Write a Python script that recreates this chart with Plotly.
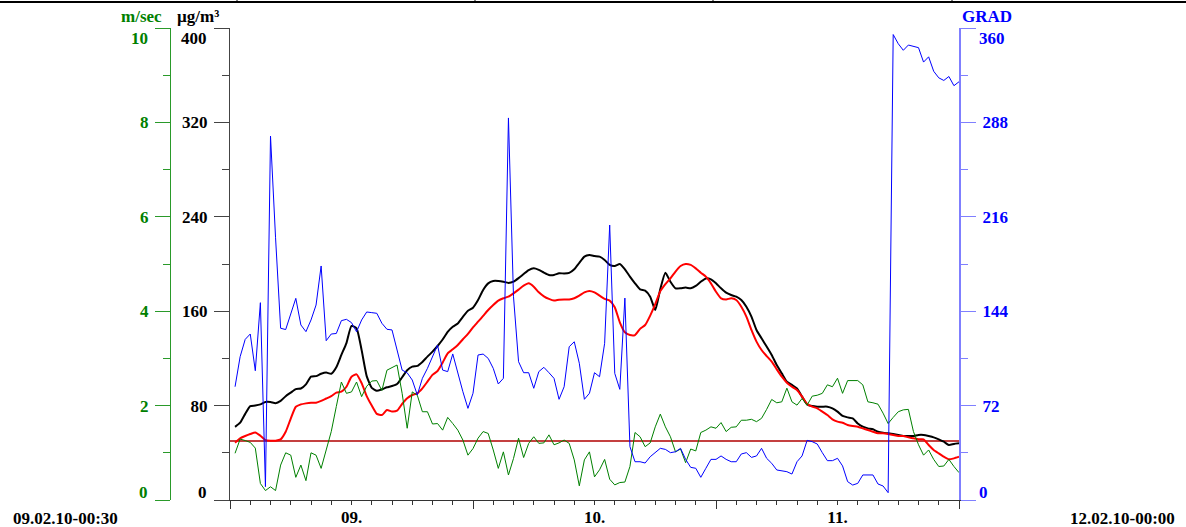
import pandas as pd
import plotly.graph_objects as go

W, H = 1186, 527

# ---- data (half-hourly, 09.02.10 00:30 .. 12.02.10 00:00) ----
start_time = "2010-02-09 00:30"
n_points = 144
times = pd.date_range(start_time, periods=n_points, freq="30min")

pm_black = [62, 65.5, 73, 79.5, 80, 81, 83, 83, 82, 84, 88, 91, 94, 94.5, 98, 104.5, 105, 107, 108, 107,
            112.5, 123, 133, 147.5, 145.5, 127, 105, 95, 92.6, 93.8, 95.5, 96.6, 98.3, 104, 110, 113, 113.6, 117, 121.5, 125.7,
            130.5, 136, 142.5, 146.8, 149.6, 155.2, 160.3, 163, 169.5, 178, 183.6, 185.6, 185.6, 185, 184, 185, 188, 191.5, 194.9, 196.3,
            195, 192.7, 190.7, 190.7, 192.1, 192, 192.5, 195.5, 201, 206.2, 207.6, 206.8, 206.2, 203.4, 199.2, 198.3, 200, 195.5, 189.3, 183.6,
            178.5, 177.4, 172.3, 161, 178.8, 192.6, 185, 179.4, 179.4, 180, 179.4, 181.4, 185, 187.8, 187, 183.6, 179.4, 175.7, 173.7, 172.3,
            169.5, 163.8, 155.4, 144.1, 137, 130, 122.9, 114.4, 107.3, 100.3, 97.5, 94.6, 87.6, 81, 79.6, 79.1, 79.1, 79.1, 77.7, 74.9,
            71.2, 70, 69.2, 64.9, 62.1, 60.7, 59.9, 57.9, 57, 56.5, 55.9, 55.1, 54.2, 54.2, 54.2, 55.1, 55.1, 54.2, 53.1, 51.4,
            49.4, 46.6, 47.5, 48]

pm_red = [48.6, 52.3, 54.2, 55.9, 57.3, 54.5, 50.8, 50.3, 50.3, 51.4, 57.8, 69, 79, 81, 81.9, 82.5, 82.5, 84, 86, 88,
          91, 91.8, 96, 104.5, 106.5, 99, 88, 80, 73, 72, 76.3, 75, 75.7, 81.4, 86.2, 89, 90.4, 94.6, 100.3, 106,
          109.3, 116.4, 124.3, 127.7, 131.4, 136.2, 140.7, 146.3, 151.1, 156, 161, 165.3, 169, 171, 172.3, 175.1, 178.3, 181.6, 183.6, 180.8,
          176, 172.6, 170.4, 169, 169.8, 170, 170, 171, 173.2, 176, 177.2, 176, 173.2, 170.4, 169, 163.3, 150.6, 142.1, 139.8, 139.8,
          145, 148.3, 156.3, 166, 177, 183, 187.9, 193.6, 198.3, 200, 199.2, 196.3, 192.6, 189.3, 183.6, 176.5, 170.9, 170, 170.9, 169.5,
          163.8, 155.4, 144.1, 134.2, 127.1, 122, 117.2, 110.7, 104.5, 99.4, 96, 93.2, 87.6, 81.4, 79.1, 77.7, 74.9, 72, 68.4, 66.4,
          65.5, 63.6, 62.7, 62.1, 60.7, 59.3, 57.9, 56.5, 56.5, 55.9, 55.1, 54.2, 54.2, 53.1, 52.3, 51.4, 51.4, 46.6, 42.4, 39.5,
          36.7, 34.5, 35.3, 36.7]

wind_speed = [0.99, 1.29, 1.26, 1.22, 1.1, 0.35, 0.2, 0.28, 0.2, 0.74, 1.0, 0.95, 0.48, 0.74, 0.41, 1.0, 0.95, 0.67, 1.06, 1.45,
              1.98, 2.5, 2.26, 2.29, 2.5, 2.19, 2.41, 2.52, 2.53, 2.32, 2.75, 2.81, 2.86, 2.26, 1.52, 2.29, 2.22, 1.87, 1.87, 1.61,
              1.62, 1.48, 1.75, 1.62, 1.48, 1.27, 0.95, 1.09, 1.31, 1.45, 1.41, 1.06, 0.67, 1.02, 0.53, 0.88, 1.31, 0.9, 1.2, 1.34,
              1.2, 1.21, 1.38, 1.17, 1.21, 1.27, 1.2, 0.85, 0.3, 0.85, 1.02, 0.49, 0.64, 0.86, 0.44, 0.32, 0.37, 0.38, 0.71, 1.43,
              1.34, 1.13, 1.21, 1.55, 1.82, 1.55, 1.34, 1.02, 1.08, 0.79, 1.08, 1.04, 1.43, 1.48, 1.55, 1.52, 1.64, 1.45, 1.54, 1.55,
              1.69, 1.69, 1.71, 1.66, 1.73, 1.92, 2.13, 2.06, 2.08, 2.37, 2.08, 2.01, 2.15, 2.01, 2.2, 2.22, 2.26, 2.44, 2.4, 2.58,
              2.26, 2.53, 2.53, 2.53, 2.44, 2.08, 2.06, 2.03, 1.84, 1.62, 1.75, 1.87, 1.91, 1.92, 1.45, 1.17, 0.95, 1.06, 0.86, 0.71,
              0.72, 0.86, 0.71, 0.58]

wind_dir = [86.4, 109.3, 122.5, 126.6, 98.6, 150.5, 10.2, 277.6, 200, 131, 130, 141.9, 153.8, 133.5, 128.4, 137.3, 148.7, 178.5, 121.5, 126.6,
            127, 136.8, 137.8, 135.3, 128.3, 137.3, 143.4, 142.9, 142.4, 134.8, 130.2, 129.7, 114.4, 99.1, 97, 91.5, 80.1, 92.8, 100.4, 109.3,
            118.2, 99.1, 97.9, 111.4, 96.4, 82.6, 69.9, 81.4, 110.6, 111.3, 108, 100.4, 88.5, 92.8, 291.4, 155, 105.5, 97.1, 97.1, 85.2,
            97.9, 101.2, 97.1, 92.8, 76.8, 86.4, 116.9, 120.7, 104.3, 76.8, 81.4, 97.1, 94, 119.5, 209.7, 96.6, 84.4, 154, 40.7, 29.2,
            29.2, 28.2, 33, 35.9, 39.4, 38.6, 36.1, 36.8, 39.4, 31, 24.9, 24.2, 17.3, 24.2, 31, 31, 33.6, 31, 29.2, 29.2,
            35.1, 36.1, 32.5, 33.6, 39.4, 31.8, 28, 22.9, 22.4, 21.6, 19.8, 29.2, 33.6, 45.5, 44.5, 42.7, 36.1, 30, 30, 31.8,
            26, 14, 11.4, 12.7, 19.1, 19.1, 19.1, 12.2, 10.7, 5.6, 355, 348, 343, 347, 346, 345, 334, 338, 327, 322,
            320, 323, 316, 319]

limit_value = 50
x_range = ["2010-02-09 00:00", "2010-02-12 00:00"]

pm_ticks = [0, 80, 160, 240, 320, 400]
ws_ticks = [0, 2, 4, 6, 8, 10]
wd_ticks = [0, 72, 144, 216, 288, 360]

start_label = "09.02.10-00:30"
end_label = "12.02.10-00:00"

# ---- styling ----
FONT = "Liberation Serif, Times New Roman, serif"
GREEN = "#008000"
BLUE = "#0000ff"
FS = 17

def px(x):
    return x / W

def py(y):
    return (500 - y) / 472.0

fig = go.Figure()

fig.add_trace(go.Scatter(x=[x_range[0], x_range[1]], y=[limit_value, limit_value], mode="lines",
                         line=dict(color="#b00000", width=1.6), yaxis="y", hoverinfo="skip"))
fig.add_trace(go.Scatter(x=times, y=wind_speed, mode="lines", line=dict(color=GREEN, width=1), yaxis="y2"))
fig.add_trace(go.Scatter(x=times, y=pm_black, mode="lines", line=dict(color="black", width=2, shape="spline", smoothing=0.5), yaxis="y"))
fig.add_trace(go.Scatter(x=times, y=pm_red, mode="lines", line=dict(color="#ff0000", width=2, shape="spline", smoothing=0.5), yaxis="y"))
fig.add_trace(go.Scatter(x=times, y=wind_dir, mode="lines", line=dict(color=BLUE, width=1), yaxis="y3"))

def ticktext(vals):
    return [""] + [str(v) for v in vals[1:-1]] + [""]

common_y = dict(showgrid=False, zeroline=False, showline=True, ticks="outside", ticklen=15, tickwidth=1,
                ticklabelstandoff=3, fixedrange=True, automargin=False)

fig.update_layout(
    width=W, height=H,
    margin=dict(l=0, r=0, t=28, b=27, autoexpand=False),
    paper_bgcolor="white", plot_bgcolor="white",
    showlegend=False,
    font=dict(family=FONT, size=FS, color="black", weight="bold"),
    xaxis=dict(domain=[px(230), px(959)], type="date", range=x_range, showgrid=False, zeroline=False,
               showline=True, linecolor="#333333", linewidth=1, ticks="outside", ticklen=8, tickcolor="#333333",
               dtick=86400000, tick0="2010-02-09", tickformat="%d.", ticklabelmode="period",
               minor=dict(dtick=7200000, ticks="outside", ticklen=4, tickcolor="#333333", showgrid=False),
               ticklabelstandoff=-6, automargin=False, fixedrange=True,
               tickfont=dict(size=FS, color="black")),
    yaxis=dict(range=[0, 400], tickvals=pm_ticks, ticktext=ticktext(pm_ticks), linecolor="#444444",
               tickcolor="#444444", tickfont=dict(color="black"),
               minor=dict(dtick=40, ticks="outside", ticklen=7, tickcolor="#444444"), **common_y),
    yaxis2=dict(range=[0, 10], tickvals=ws_ticks, ticktext=ticktext(ws_ticks), overlaying="y", anchor="free",
                position=px(170), side="left", linecolor="#2a9a2a", tickcolor="#2a9a2a",
                tickfont=dict(color=GREEN), minor=dict(dtick=1, ticks="outside", ticklen=7, tickcolor="#2a9a2a"), **common_y),
    yaxis3=dict(range=[0, 360], tickvals=wd_ticks, ticktext=ticktext(wd_ticks), overlaying="y", anchor="x",
                side="right", linecolor="#7f7fff", linewidth=2, tickcolor="#7f7fff",
                tickfont=dict(color=BLUE), minor=dict(dtick=36, ticks="outside", ticklen=7, tickcolor="#7f7fff"), **common_y),
)

ann = []
def add_text(text, x, y, xanchor, color):
    ann.append(dict(text=text, x=px(x), y=py(y), xref="paper", yref="paper", xanchor=xanchor, yanchor="middle",
                    showarrow=False, font=dict(family=FONT, size=FS, color=color, weight="bold")))

# axis end labels
add_text(str(ws_ticks[-1]), 150, 38, "right", GREEN)
add_text(str(ws_ticks[0]), 150, 492, "right", GREEN)
add_text(str(pm_ticks[-1]), 209, 38, "right", "black")
add_text(str(pm_ticks[0]), 209, 492, "right", "black")
add_text(str(wd_ticks[-1]), 977, 38, "left", BLUE)
add_text(str(wd_ticks[0]), 977, 492, "left", BLUE)
# axis titles
add_text("m/sec", 164, 17, "right", GREEN)
add_text("µg/m³", 198, 17, "center", "black")
add_text("GRAD", 960, 17, "left", BLUE)
# start / end labels
add_text(start_label, 11, 518, "left", "black")
add_text(end_label, 1177, 518, "right", "black")
fig.update_layout(annotations=ann)

# top frame line with small marks
shapes = [dict(type="line", xref="paper", yref="paper", x0=0, x1=1, y0=py(2), y1=py(2),
               line=dict(color="black", width=2))]
for tx in [237, 475, 713, 952]:
    shapes.append(dict(type="line", xref="paper", yref="paper", x0=px(tx), x1=px(tx), y0=py(0), y1=py(2),
                       line=dict(color="black", width=1)))
fig.update_layout(shapes=shapes)

fig.write_html("out.html", config={"displayModeBar": False},
               post_script="document.body.style.margin='0';document.body.style.overflow='hidden';")
